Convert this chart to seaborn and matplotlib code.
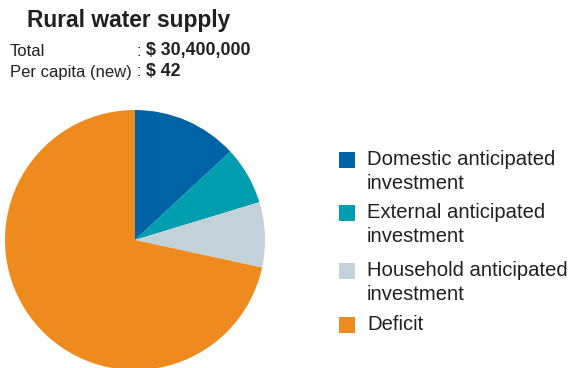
import matplotlib
matplotlib.use("Agg")
import matplotlib.pyplot as plt
from matplotlib.patches import Rectangle
import seaborn as sns

# Funding shares (%) of the rural water supply requirement
categories = [
    "Domestic anticipated\ninvestment",
    "External anticipated\ninvestment",
    "Household anticipated\ninvestment",
    "Deficit",
]
shares = [13.1, 7.2, 8.1, 71.6]
colors = ["#0063a6", "#009eaf", "#c3d2d8", "#ee8a1e"]

title = "Rural water supply"
total_label, total_value = "Total", "$ 30,400,000"
percap_label, percap_value = "Per capita (new)", "$ 42"

sns.set_theme(style="white")
plt.rcParams["font.family"] = ["Liberation Sans", "DejaVu Sans"]

W, H = 575, 368
fig = plt.figure(figsize=(W / 100, H / 100), dpi=100)
fig.patch.set_facecolor("white")


def fx(px):
    return px / W


def fy(py):
    return 1 - py / H


# Pie: centre (135, 240) px, radius 130 px; bottom runs off the canvas
cx, cy, r = 135, 240, 130
ax = fig.add_axes([fx(cx - r), fy(cy + r), 2 * r / W, 2 * r / H])
ax.pie(shares, colors=colors, startangle=90, counterclock=False,
       radius=1, wedgeprops=dict(linewidth=0))
ax.set_xlim(-1, 1)
ax.set_ylim(-1, 1)
ax.set_aspect("equal")
ax.axis("off")

# Header block
txt_color = "#231f20"
fig.text(fx(27), fy(20), title, fontsize=16.4, fontweight="bold",
         color=txt_color, va="center", ha="left")
for y, lab, val in [(51, total_label, total_value),
                    (72, percap_label, percap_value)]:
    fig.text(fx(10), fy(y), lab, fontsize=12, color=txt_color,
             va="center", ha="left")
    fig.text(fx(136), fy(y), ":", fontsize=12, color=txt_color,
             va="center", ha="left")
    fig.text(fx(145.5), fy(y), val, fontsize=12.8, fontweight="bold",
             color=txt_color, va="center", ha="left")

# Legend: square swatch aligned with the first line of each label
row_y = [160, 213, 271, 325]
line_gap = 23.5
for label, col, y in zip(categories, colors, row_y):
    fig.patches.append(Rectangle((fx(339), fy(y + 8)), 16 / W, 16 / H,
                                 transform=fig.transFigure, facecolor=col,
                                 edgecolor="none"))
    for i, part in enumerate(label.split("\n")):
        fig.text(fx(367), fy(y + i * line_gap), part, fontsize=14.6,
                 color=txt_color, va="center", ha="left")

fig.savefig("out.png", dpi=100)
